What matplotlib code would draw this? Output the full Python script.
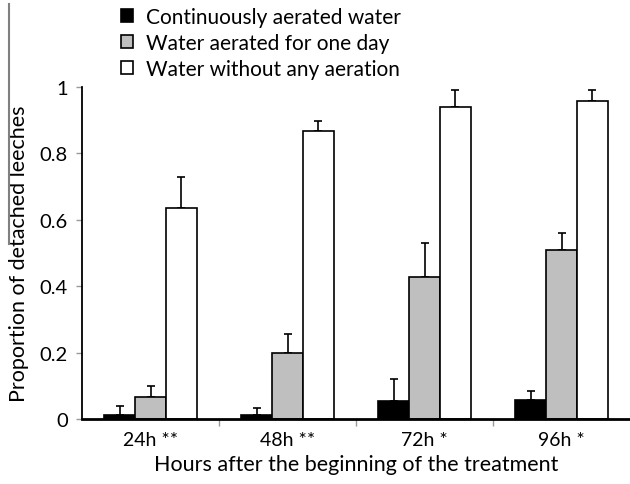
import numpy as np
import matplotlib
matplotlib.use("Agg")
import matplotlib.pyplot as plt
from matplotlib.lines import Line2D

plt.rcParams['font.family'] = ['Lato', 'DejaVu Sans']

# data
hours = ['24h **', '48h **', '72h *', '96h *']
series = ['Continuously aerated water', 'Water aerated for one day', 'Water without any aeration']
colors = ['#000000', '#BFBFBF', '#FFFFFF']
aerated = [0.013, 0.013, 0.055, 0.058]
aerated_err = [0.025, 0.020, 0.065, 0.027]
one_day = [0.065, 0.198, 0.428, 0.508]
one_day_err = [0.034, 0.059, 0.101, 0.053]
none = [0.635, 0.866, 0.939, 0.957]
none_err = [0.095, 0.031, 0.051, 0.035]
yticks = [0, 0.2, 0.4, 0.6, 0.8, 1]
ylabels = ['0', '0.2', '0.4', '0.6', '0.8', '1']

fig = plt.figure(figsize=(6.3, 4.85), dpi=100)
ax = fig.add_axes([82/630, 1-420/485, 1-82/630, (420-88)/485])

x = np.arange(len(hours))
w = 0.226
vals = [aerated, one_day, none]
errs = [aerated_err, one_day_err, none_err]
handles = []
for i in range(3):
    b = ax.bar(x + (i-1)*w, vals[i], w, color=colors[i], edgecolor='black', linewidth=1.2,
               label=series[i], zorder=2)
    ax.errorbar(x + (i-1)*w, vals[i], yerr=[np.zeros(4), errs[i]], fmt='none',
                ecolor='black', elinewidth=1.2, capsize=3, capthick=1.2, zorder=1)
    handles.append(b)

ax.set_xlim(-0.5, 3.5)
ax.set_ylim(0, 1)
ax.set_yticks(yticks)
ax.set_yticklabels(ylabels, fontsize=14.5)
ax.set_xticks([0.5, 1.5, 2.5], minor=False)
ax.set_xticklabels([])
ax.set_xticks(x, minor=True)
ax.set_xticklabels(hours, minor=True, fontsize=14)
ax.tick_params(axis='x', which='minor', length=0, pad=9)
ax.tick_params(axis='x', which='major', length=5, color='#999999', width=1)
ax.tick_params(axis='y', length=4, color='#999999', width=1, pad=6)

ax.spines['top'].set_visible(False)
ax.spines['right'].set_visible(False)
ax.spines['bottom'].set_linewidth(2)
ax.spines['left'].set_linewidth(1.3)

ax.set_ylabel('Proportion of detached leeches', fontsize=15.5, labelpad=8)
ax.set_xlabel('Hours after the beginning of the treatment', fontsize=15.5, labelpad=4)

leg = fig.legend(handles=handles, loc='upper left', bbox_to_anchor=(108/630, 1.01),
                 fontsize=15, frameon=False, handlelength=0.6, handleheight=0.6,
                 handletextpad=0.6, labelspacing=0.3, borderaxespad=0.2)

fig.add_artist(Line2D([9/630, 9/630], [1-5/485, 1-245/485], color='#808080', linewidth=1.5))

fig.savefig('out.png', dpi=100)
